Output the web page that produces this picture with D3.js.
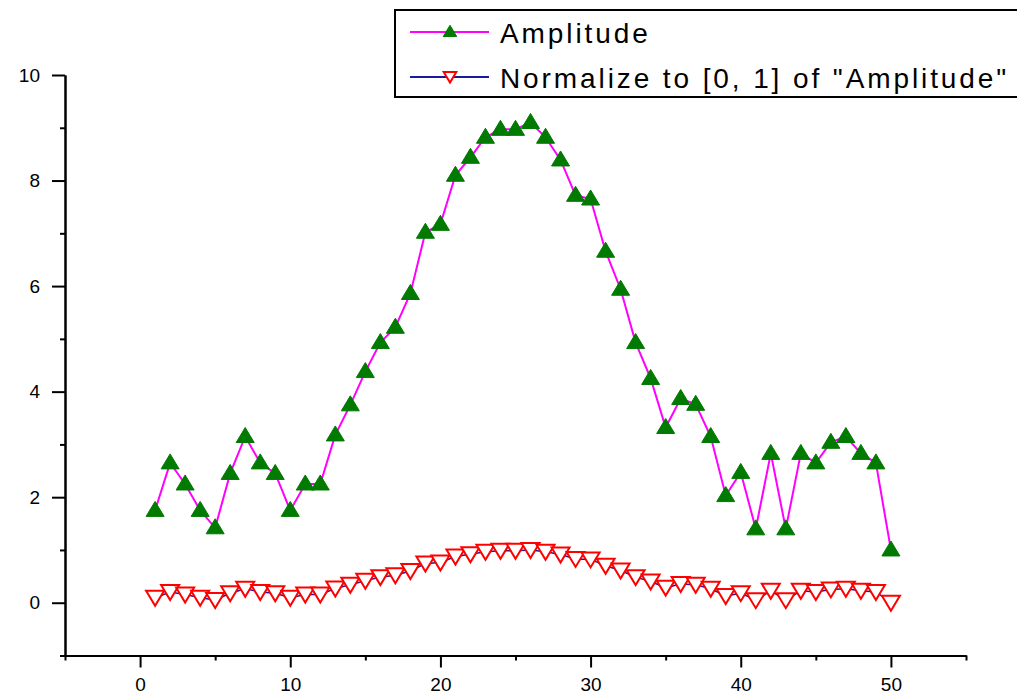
<!DOCTYPE html>
<html>
<head>
<meta charset="utf-8">
<script src="https://cdn.jsdelivr.net/npm/d3@7"></script>
<style>
  html, body { margin: 0; padding: 0; background: #fff; }
  svg { display: block; }
  text { font-family: "Liberation Sans", Arial, sans-serif; }
</style>
</head>
<body>
<svg id="chart" width="1017" height="697"></svg>
<script>
// ---- data ----
const xValues = d3.range(1, 51);
const amplitude = [1.75, 2.65, 2.25, 1.75, 1.42, 2.45, 3.15, 2.65, 2.45, 1.75,
                   2.25, 2.25, 3.18, 3.75, 4.38, 4.93, 5.22, 5.86, 7.02, 7.17,
                   8.10, 8.44, 8.82, 8.97, 8.97, 9.10, 8.82, 8.39, 7.72, 7.65,
                   6.66, 5.94, 4.93, 4.25, 3.32, 3.87, 3.76, 3.15, 2.03, 2.47,
                   1.40, 2.83, 1.40, 2.83, 2.65, 3.04, 3.15, 2.83, 2.65, 1.00];
const normalized = [0.093, 0.204, 0.154, 0.093, 0.052, 0.179, 0.265, 0.204, 0.179, 0.093,
                    0.154, 0.154, 0.269, 0.340, 0.417, 0.485, 0.521, 0.600, 0.743, 0.762,
                    0.877, 0.919, 0.965, 0.984, 0.984, 1.000, 0.965, 0.912, 0.830, 0.821,
                    0.699, 0.610, 0.485, 0.401, 0.286, 0.354, 0.341, 0.265, 0.127, 0.181,
                    0.049, 0.226, 0.049, 0.226, 0.204, 0.252, 0.265, 0.226, 0.204, 0.000];
const seriesNames = ["Amplitude", "Normalize to [0, 1] of \"Amplitude\""];
const xMajorTicks = [0, 10, 20, 30, 40, 50];
const xMinorTicks = [-5, 5, 15, 25, 35, 45, 55];
const yMajorTicks = [0, 2, 4, 6, 8, 10];
const yMinorTicks = [-1, 1, 3, 5, 7, 9];

// ---- layout ----
const svg = d3.select("#chart");
const x = d3.scaleLinear().domain([-5, 55]).range([65, 966]);
const y = d3.scaleLinear().domain([-1, 10]).range([655.5, 75]);

// y axis
const yAxisMajor = d3.axisLeft(y).tickValues(yMajorTicks).tickSize(13).tickPadding(12).tickSizeOuter(0).tickFormat(d3.format("d"));
const yAxisMinor = d3.axisLeft(y).tickValues(yMinorTicks).tickSize(5).tickSizeOuter(0).tickFormat("");
const gy = svg.append("g").attr("transform", `translate(${x(-5)},0)`);
gy.call(yAxisMajor);
gy.append("g").call(yAxisMinor);
// x axis
const xAxisMajor = d3.axisBottom(x).tickValues(xMajorTicks).tickSize(12).tickPadding(10).tickSizeOuter(0).tickFormat(d3.format("d"));
const xAxisMinor = d3.axisBottom(x).tickValues(xMinorTicks).tickSize(5).tickSizeOuter(0).tickFormat("");
const gx = svg.append("g").attr("transform", `translate(0,${y(-1)})`);
gx.call(xAxisMajor);
gx.append("g").call(xAxisMinor);

svg.selectAll(".domain").attr("stroke", "#000").attr("stroke-width", 2);
svg.selectAll(".tick line").attr("stroke", "#000").attr("stroke-width", 2);
svg.selectAll(".tick text").attr("fill", "#000").style("font-size", "19px")
   .style("font-family", "\"Liberation Sans\", Arial, sans-serif");

// ---- series ----
const data1 = xValues.map((d, i) => [d, amplitude[i]]);
const data2 = xValues.map((d, i) => [d, normalized[i]]);
const line = d3.line().x(d => x(d[0])).y(d => y(d[1]));

const upTri = "M0,-9 L9,6 L-9,6 Z";
const downTri = "M-9,-7 L9,-7 L0,8 Z";

svg.append("path").datum(data2).attr("d", line)
   .attr("fill", "none").attr("stroke", "#1a1aa0").attr("stroke-width", 1.5);
svg.append("path").datum(data1).attr("d", line)
   .attr("fill", "none").attr("stroke", "#ff00ff").attr("stroke-width", 2);

svg.append("g").selectAll("path").data(data2).join("path")
   .attr("d", downTri)
   .attr("transform", d => `translate(${x(d[0])},${y(d[1])})`)
   .attr("fill", "#fff").attr("stroke", "#ff0000").attr("stroke-width", 2);

svg.append("g").selectAll("path").data(data1).join("path")
   .attr("d", upTri)
   .attr("transform", d => `translate(${x(d[0])},${y(d[1])})`)
   .attr("fill", "#007a00").attr("stroke", "#007a00").attr("stroke-width", 1);

// ---- legend ----
const lg = svg.append("g");
lg.append("rect").attr("x", 395).attr("y", 10).attr("width", 650).attr("height", 87)
  .attr("fill", "#fff").attr("stroke", "#000").attr("stroke-width", 2);
const rows = [
  {name: seriesNames[0], line: "#ff00ff", y: 32, marker: upTri, fill: "#007a00", stroke: "#007a00", sw: 1, scale: 0.75},
  {name: seriesNames[1], line: "#1a1aa0", y: 77, marker: downTri, fill: "#fff", stroke: "#ff0000", sw: 2, scale: 0.7}
];
rows.forEach(r => {
  lg.append("line").attr("x1", 410).attr("x2", 489).attr("y1", r.y).attr("y2", r.y)
    .attr("stroke", r.line).attr("stroke-width", 2);
  lg.append("path").attr("d", r.marker)
    .attr("transform", `translate(450,${r.y}) scale(${r.scale})`)
    .attr("fill", r.fill).attr("stroke", r.stroke).attr("stroke-width", r.sw / r.scale);
  lg.append("text").attr("x", 500).attr("y", r.y + 11).text(r.name)
    .style("font-size", "28px").style("letter-spacing", "2.9px").attr("fill", "#000");
});
</script>
</body>
</html>
